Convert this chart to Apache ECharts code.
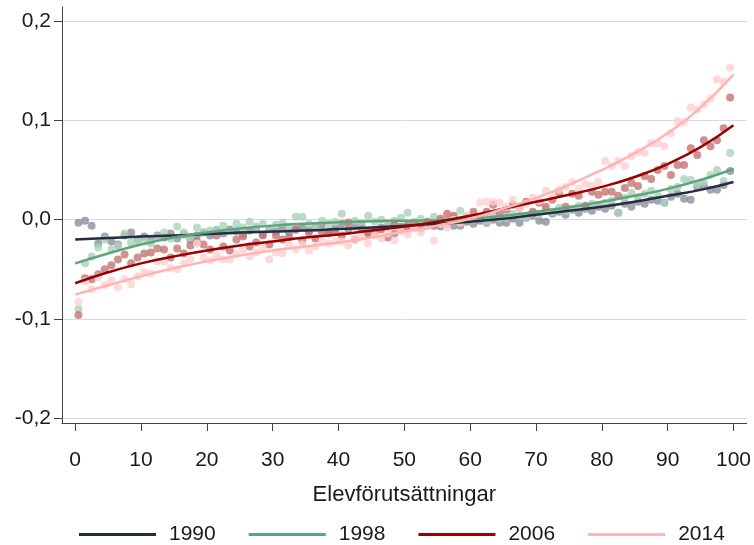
<!DOCTYPE html>
<html><head><meta charset="utf-8">
<script src="https://cdn.jsdelivr.net/npm/echarts@6/dist/echarts.min.js"></script>
<style>html,body{margin:0;padding:0;background:#fff}#c{width:754px;height:545px}</style>
</head><body><div id="c"></div>
<script>
const years = ['1990', '1998', '2006', '2014'];
const xTicks = [0, 10, 20, 30, 40, 50, 60, 70, 80, 90, 100];
const yTicks = [-0.2, -0.1, 0, 0.1, 0.2];
const yTickText = ['-0,2', '-0,1', '0,0', '0,1', '0,2'];
const xTitle = 'Elevförutsättningar';

const pointX = [0.5,1.5,2.5,3.5,4.5,5.5,6.5,7.5,8.5,9.5,
10.5,11.5,12.5,13.5,14.5,15.5,16.5,17.5,18.5,19.5,
20.5,21.5,22.5,23.5,24.5,25.5,26.5,27.5,28.5,29.5,
30.5,31.5,32.5,33.5,34.5,35.5,36.5,37.5,38.5,39.5,
40.5,41.5,42.5,43.5,44.5,45.5,46.5,47.5,48.5,49.5,
50.5,51.5,52.5,53.5,54.5,55.5,56.5,57.5,58.5,59.5,
60.5,61.5,62.5,63.5,64.5,65.5,66.5,67.5,68.5,69.5,
70.5,71.5,72.5,73.5,74.5,75.5,76.5,77.5,78.5,79.5,
80.5,81.5,82.5,83.5,84.5,85.5,86.5,87.5,88.5,89.5,
90.5,91.5,92.5,93.5,94.5,95.5,96.5,97.5,98.5,99.5];

const pts1990 = [-0.003,-0.001,-0.006,-0.024,-0.017,-0.022,-0.025,-0.016,-0.013,-0.020,
-0.017,-0.021,-0.016,-0.018,-0.014,-0.019,-0.015,-0.020,-0.016,-0.013,
-0.016,-0.011,-0.014,-0.010,-0.012,-0.015,-0.011,-0.009,-0.015,-0.010,
-0.012,-0.008,-0.013,-0.010,-0.007,-0.011,-0.008,-0.005,-0.012,-0.009,
-0.004,-0.010,-0.007,-0.005,-0.013,-0.011,-0.008,-0.006,-0.014,-0.007,
-0.005,-0.008,-0.004,-0.006,-0.003,-0.007,-0.004,-0.006,-0.006,-0.002,
-0.004,-0.001,-0.003,0.000,-0.003,-0.003,0.001,-0.003,0.002,0.004,
-0.001,-0.002,0.006,0.008,0.005,0.010,0.007,0.011,0.009,0.013,
0.011,0.014,0.007,0.016,0.013,0.018,0.016,0.020,0.019,0.017,
0.023,0.026,0.021,0.020,0.033,0.034,0.030,0.030,0.035,0.049];

const pts1998 = [-0.090,-0.044,-0.037,-0.028,-0.020,-0.030,-0.026,-0.014,-0.023,-0.022,
-0.020,-0.024,-0.017,-0.013,-0.019,-0.007,-0.013,-0.018,-0.008,-0.013,
-0.011,-0.010,-0.006,-0.012,-0.004,-0.008,-0.002,-0.007,-0.004,-0.009,
-0.005,-0.003,-0.007,0.003,0.003,-0.004,-0.006,-0.001,-0.004,-0.002,
0.006,-0.003,-0.001,-0.004,0.004,-0.002,0.000,-0.005,-0.001,0.002,
0.007,-0.002,0.001,-0.003,0.003,-0.001,0.000,0.002,0.009,0.002,
0.000,0.003,-0.002,0.005,0.001,0.002,0.006,0.004,0.003,0.007,
0.006,0.010,0.008,0.012,0.009,0.011,0.014,0.013,0.016,0.015,
0.017,0.019,0.007,0.022,0.027,0.023,0.026,0.029,0.024,0.017,
0.031,0.033,0.041,0.040,0.036,0.038,0.045,0.050,0.039,0.067];

const pts2006 = [-0.096,-0.059,-0.060,-0.055,-0.050,-0.046,-0.040,-0.035,-0.044,-0.038,
-0.034,-0.033,-0.029,-0.030,-0.038,-0.029,-0.034,-0.026,-0.022,-0.025,
-0.030,-0.016,-0.027,-0.031,-0.020,-0.017,-0.027,-0.023,-0.016,-0.025,
-0.016,-0.020,-0.018,-0.010,-0.021,-0.013,-0.019,-0.013,-0.014,-0.012,
-0.016,-0.003,-0.020,-0.010,-0.014,-0.012,-0.010,-0.018,-0.005,-0.009,
-0.008,-0.004,-0.009,-0.002,-0.006,0.001,0.006,0.004,-0.001,0.003,
0.008,0.002,0.008,0.015,0.006,0.010,0.015,0.012,0.018,0.008,
0.017,0.013,0.020,0.027,0.013,0.026,0.024,0.014,0.028,0.025,
0.028,0.028,0.024,0.032,0.037,0.034,0.044,0.041,0.050,0.054,
0.045,0.055,0.055,0.072,0.065,0.080,0.074,0.080,0.092,0.123];

const pts2014 = [-0.083,-0.062,-0.070,-0.058,-0.066,-0.061,-0.068,-0.060,-0.065,-0.057,
-0.053,-0.054,-0.042,-0.042,-0.049,-0.050,-0.044,-0.040,-0.024,-0.038,
-0.041,-0.036,-0.040,-0.040,-0.035,-0.030,-0.037,-0.033,-0.028,-0.040,
-0.033,-0.034,-0.026,-0.030,-0.025,-0.031,-0.027,-0.022,-0.024,-0.022,
-0.022,-0.026,-0.020,-0.018,-0.024,-0.016,-0.019,-0.014,-0.021,-0.012,
-0.015,-0.009,-0.013,-0.006,-0.021,-0.004,-0.008,0.000,-0.003,0.004,
0.002,0.017,0.018,0.018,0.017,0.013,0.020,0.012,0.016,0.022,
0.019,0.029,0.024,0.030,0.033,0.038,0.031,0.036,0.034,0.038,
0.059,0.054,0.059,0.054,0.064,0.068,0.067,0.077,0.077,0.074,
0.087,0.099,0.098,0.113,0.111,0.116,0.122,0.141,0.139,0.153];

const fitX = [0,5,10,15,20,25,30,35,40,45,50,55,60,65,70,75,80,85,90,95,100];
const fit1990 = [-0.020,-0.0185,-0.017,-0.016,-0.0145,-0.013,-0.012,-0.011,-0.0095,-0.008,-0.006,-0.004,-0.002,0.001,0.005,0.009,0.013,0.018,0.024,0.030,0.038];
const fit1998 = [-0.044,-0.034,-0.025,-0.018,-0.013,-0.009,-0.006,-0.004,-0.0025,-0.0015,-0.001,-0.0005,0.001,0.004,0.008,0.0125,0.018,0.024,0.031,0.040,0.051];
const fit2006 = [-0.064,-0.053,-0.044,-0.037,-0.031,-0.026,-0.022,-0.018,-0.015,-0.011,-0.007,-0.002,0.004,0.011,0.018,0.025,0.033,0.043,0.056,0.073,0.095];
const fit2014 = [-0.0755,-0.066,-0.057,-0.049,-0.042,-0.036,-0.031,-0.027,-0.023,-0.018,-0.012,-0.006,0.001,0.011,0.022,0.035,0.050,0.067,0.087,0.113,0.146];

const pointSets = [pts1990, pts1998, pts2006, pts2014];
const fitSets = [fit1990, fit1998, fit2006, fit2014];
const lineColors = ['#222c42', '#5ea47d', '#990000', '#ffb4b4'];
const dotColors = ['#8c909b', '#a9d3b8', '#c67474', '#ffcfcf'];

const FONT = 'Liberation Sans, Arial, sans-serif';
const TXT = '#1a1a1a';

const series = [];
pointSets.forEach((p, s) => {
  series.push({
    name: years[s] + ' pts', type: 'scatter', symbol: 'circle', symbolSize: 8,
    itemStyle: { color: dotColors[s] }, z: 2, silent: true,
    data: pointX.map((x, i) => [x, p[i]])
  });
});
fitSets.forEach((f, s) => {
  series.push({
    name: years[s], type: 'line', smooth: true, showSymbol: false, symbol: 'none',
    color: lineColors[s], itemStyle: { color: lineColors[s] },
    lineStyle: { color: lineColors[s], width: 2.5 }, z: 5, silent: true,
    data: fitX.map((x, i) => [x, f[i]])
  });
});

const chart = echarts.init(document.getElementById('c'), null, { renderer: 'canvas' });
chart.setOption({
  animation: false,
  backgroundColor: '#fff',
  textStyle: { fontFamily: FONT },
  grid: { left: 62, right: 6, top: 7, bottom: 122, containLabel: false },
  xAxis: {
    type: 'value', min: -2, max: 102,
    name: xTitle, nameLocation: 'middle', nameGap: 61,
    nameTextStyle: { fontSize: 22, color: TXT, fontFamily: FONT },
    axisLine: { show: true, onZero: false, lineStyle: { color: '#444', width: 1 } },
    axisTick: { show: true, length: 8, lineStyle: { color: '#444' }, customValues: xTicks },
    axisLabel: { customValues: xTicks, fontSize: 21, color: TXT, margin: 27, fontFamily: FONT },
    splitLine: { show: false }
  },
  yAxis: {
    type: 'value', min: -0.2047, max: 0.2141,
    axisLine: { show: true, onZero: false, lineStyle: { color: '#444', width: 1 } },
    axisTick: { show: true, length: 8, lineStyle: { color: '#444' }, customValues: yTicks },
    axisLabel: {
      customValues: yTicks, fontSize: 21, color: TXT, margin: 11, fontFamily: FONT,
      formatter: v => { const i = yTicks.findIndex(t => Math.abs(t - v) < 1e-6); return i >= 0 ? yTickText[i] : ''; }
    },
    splitLine: { show: true, lineStyle: { color: '#dadada', width: 1 } }
  },
  legend: {
    data: years, left: 74, top: 519, icon: 'rect', itemWidth: 77, itemHeight: 3, itemGap: 33,
    textStyle: { fontSize: 21, color: TXT, fontFamily: FONT, padding: [0, 0, 0, 8] },
    selectedMode: false
  },
  series: series
});
</script></body></html>
